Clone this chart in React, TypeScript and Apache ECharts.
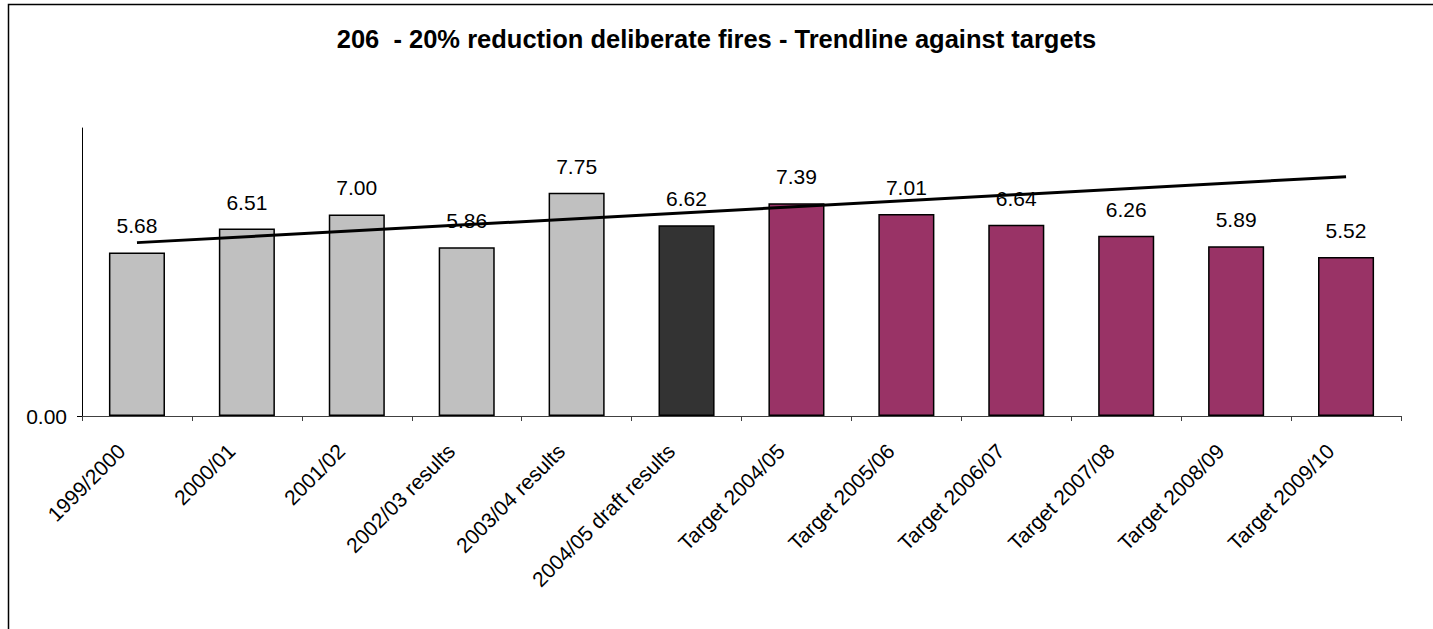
import React, { useEffect, useRef } from "react";
import * as echarts from "echarts";

const categories = [
  "1999/2000",
  "2000/01",
  "2001/02",
  "2002/03 results",
  "2003/04 results",
  "2004/05 draft results",
  "Target 2004/05",
  "Target 2005/06",
  "Target 2006/07",
  "Target 2007/08",
  "Target 2008/09",
  "Target 2009/10",
];
const values = [5.68, 6.51, 7.0, 5.86, 7.75, 6.62, 7.39, 7.01, 6.64, 6.26, 5.89, 5.52];
// bar kind: 0 = past results, 1 = draft results, 2 = target
const kinds = [0, 0, 0, 0, 0, 1, 2, 2, 2, 2, 2, 2];
// trendline end points (first and last category)
const trendline = [6.02, null, null, null, null, null, null, null, null, null, null, 8.31];
const yTicks = [0];

const kindColors = ["#C0C0C0", "#333333", "#993366"];
const FONT = "Liberation Sans, Arial, sans-serif";

export default function App() {
  const ref = useRef<HTMLDivElement>(null);
  useEffect(() => {
    if (!ref.current) return;
    const chart = echarts.init(ref.current, null, { renderer: "svg" });
    chart.setOption({
      animation: false,
      backgroundColor: "#ffffff",
      title: {
        text: "206  - 20% reduction deliberate fires - Trendline against targets",
        left: "center",
        top: 21,
        textStyle: { fontFamily: FONT, fontSize: 25.5, fontWeight: "bold", color: "#000" },
      },
      graphic: [
        {
          type: "rect",
          shape: { x: 8.5, y: 4.5, width: 1500, height: 700 },
          style: { fill: "none", stroke: "#000", lineWidth: 1.5 },
          silent: true,
          z: -1,
        },
      ],
      grid: { left: 82, right: 32, top: 128, bottom: 213 },
      xAxis: {
        type: "category",
        data: categories,
        boundaryGap: true,
        axisLine: { lineStyle: { color: "#404040", width: 1 } },
        axisTick: { show: true, interval: 0, length: 5, alignWithLabel: false, lineStyle: { color: "#404040" } },
        axisLabel: {
          interval: 0,
          rotate: 45,
          margin: 16,
          padding: [0, 22, 0, 0],
          fontFamily: FONT,
          fontSize: 21,
          color: "#000",
        },
      },
      yAxis: {
        type: "value",
        min: 0,
        max: 10,
        interval: 10,
        splitLine: { show: false },
        axisLine: { show: true, lineStyle: { color: "#000", width: 1 } },
        axisTick: { show: true, length: 5, customValues: yTicks, lineStyle: { color: "#000" } },
        axisLabel: {
          customValues: yTicks,
          formatter: (v: number) => v.toFixed(2),
          fontFamily: FONT,
          fontSize: 21,
          color: "#000",
          margin: 15,
        },
      },
      series: [
        {
          type: "bar",
          barWidth: "51%",
          data: values.map((v, i) => ({
            value: v,
            itemStyle: { color: kindColors[kinds[i]], borderColor: "#000", borderWidth: 1.5 },
          })),
          label: {
            show: true,
            position: "top",
            distance: 16,
            formatter: (p: any) => Number(p.value).toFixed(2),
            fontFamily: FONT,
            fontSize: 21,
            color: "#000",
          },
          z: 2,
        },
        {
          type: "line",
          data: trendline,
          connectNulls: true,
          symbol: "none",
          lineStyle: { color: "#000", width: 3 },
          z: 3,
        },
      ],
    });
    return () => chart.dispose();
  }, []);
  return (
    <div
      ref={ref}
      style={{ position: "fixed", left: 0, top: 0, width: 1433, height: 629 }}
    />
  );
}
